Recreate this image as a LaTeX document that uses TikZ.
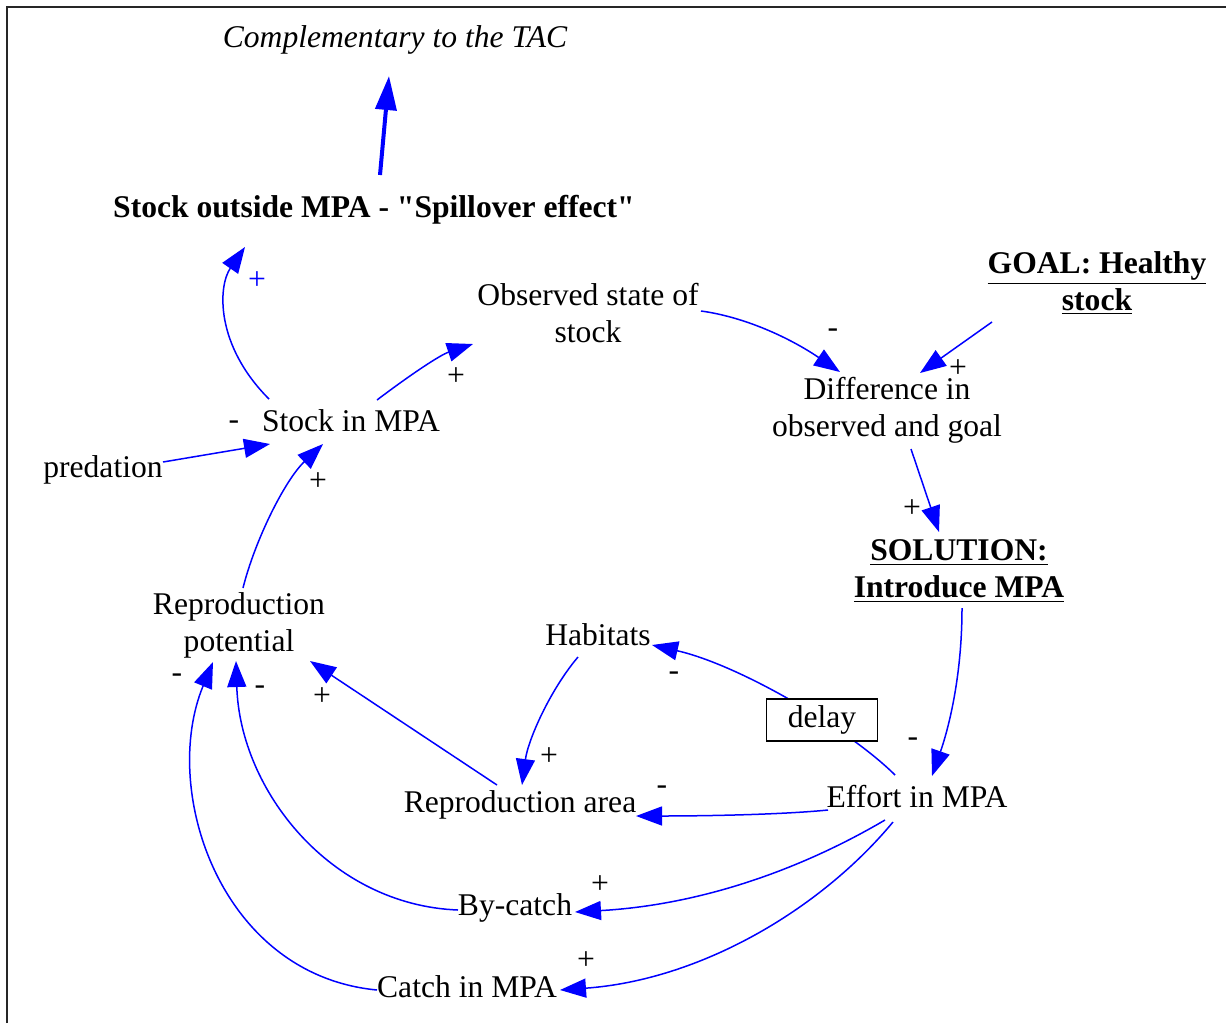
\documentclass[tikz,border=0pt]{standalone}
\usepackage{fontspec}
\setmainfont{Liberation Serif}
\usetikzlibrary{arrows.meta,calc}
\begin{document}
\begin{tikzpicture}[x=0.5pt,y=-0.5pt,
  lbl/.style={font=\fontsize{15.8}{18.5}\selectfont, inner sep=0pt, align=center},
  bld/.style={font=\fontsize{15.8}{18.5}\selectfont\bfseries, inner sep=0pt, align=center},
  sgn/.style={font=\fontsize{15.8}{18}\selectfont, inner sep=0pt},
  link/.style={draw=blue, line width=0.75pt, -{Triangle[length=13pt,width=9.5pt]}},
  thick link/.style={draw=blue, line width=2pt, -{Triangle[length=17pt,width=10.5pt]}}]
\useasboundingbox (0,0) rectangle (1226,1023);
\draw[line width=1.1pt, black!85] (7,1023) -- (7,7) -- (1226,7);

% nodes
\node[lbl, font=\fontsize{15.8}{18.5}\selectfont\itshape] (top) at (395,40) {Complementary to the TAC};
\node[bld] (out) at (374,210) {Stock outside MPA - \textquotedbl Spillover effect\textquotedbl};
\node[lbl] (obs) at (588,313) {Observed state of\\stock};
\node[bld] (goal) at (1097,283) {\underline{GOAL: Healthy}\\\underline{stock}};
\node[lbl] (diff) at (887,410) {Difference in\\observed and goal};
\node[bld] (sol) at (959,571) {\underline{SOLUTION:}\\\underline{Introduce MPA}};
\node[lbl] (stock) at (351,421) {Stock in MPA};
\node[lbl] (pred) at (103,470) {predation};
\node[lbl] (rp) at (239,625) {Reproduction\\potential};
\node[lbl] (hab) at (598,635) {Habitats};
\node[lbl] (eff) at (917,797) {Effort in MPA};
\node[lbl] (ra) at (520,805) {Reproduction area};
\node[lbl] (bc) at (515,908) {By-catch};
\node[lbl] (cm) at (467,987) {Catch in MPA};

% connectors
\draw[thick link] ($(out)+(6,-35)$) -- ($(top)+(-6,36)$);
\draw[link] ($(stock)+(-82,-22)$) .. controls +(-54,-54) and +(-27,39) .. ($(out)+(-129,37)$);
\draw[link] ($(stock)+(26,-21)$) .. controls +(33,-25) and +(-33,11) .. ($(obs)+(-115,31)$);
\draw[link] ($(pred)+(60,-8)$) -- ($(stock)+(-81,23)$);
\draw[link] ($(rp)+(4,-37)$) .. controls +(12,-48) and +(-38,36) .. ($(stock)+(-28,23)$);
\draw[link] ($(obs)+(113,-2)$) .. controls +(44,6) and +(-50,-34) .. ($(diff)+(-47,-38)$);
\draw[link] ($(goal)+(-105,39)$) -- ($(diff)+(33,-37)$);
\draw[link] ($(diff)+(24,39)$) -- ($(sol)+(-20,-39)$);
\draw[link] ($(sol)+(3,37)$) .. controls +(0,70) and +(16,-46) .. ($(eff)+(15,-21)$);
\draw[link] ($(eff)+(-22,-22)$) .. controls +(-45,-45) and +(88,20) .. ($(hab)+(54,10)$);
\draw[link] ($(hab)+(-20,22)$) .. controls +(-28,33) and +(6,-45) .. ($(ra)+(2,-20)$);
\draw[link] ($(eff)+(-89,13)$) .. controls +(-50,5) and +(60,0) .. ($(ra)+(116,11)$);
\draw[link] ($(ra)+(-23,-20)$) -- ($(rp)+(71,36)$);
\draw[link] ($(bc)+(-57,2)$) .. controls +(-128,-5) and +(4,129) .. ($(rp)+(-3,36)$);
\draw[link] ($(cm)+(-90,3)$) .. controls +(-157,-15) and +(-53,128) .. ($(rp)+(-26,37)$);
\draw[link] ($(eff)+(-32,23)$) .. controls +(-85,50) and +(125,-7) .. ($(bc)+(60,4)$);
\draw[link] ($(eff)+(-24,25)$) .. controls +(-73,88) and +(140,-10) .. ($(cm)+(93,3)$);

% delay box on top of the effort-habitats link
\node[lbl, draw, line width=0.75pt, fill=white, minimum width=55.5pt, minimum height=21pt] (delay) at (822,720) {delay};

% polarity signs
\node[sgn, text=blue] (p1) at (257,281) {+};
\node[sgn] (p2) at (456,377) {+};
\node[sgn] (m1) at (234,425) {-};
\node[sgn] (p3) at (318,482) {+};
\node[sgn] (m2) at (833,333) {-};
\node[sgn] (p4) at (958,369) {+};
\node[sgn] (p5) at (912,509) {+};
\node[sgn] (m3) at (913,742) {-};
\node[sgn] (m4) at (674,676) {-};
\node[sgn] (p6) at (549,757) {+};
\node[sgn] (m5) at (662,790) {-};
\node[sgn] (p7) at (322,697) {+};
\node[sgn] (m6) at (177,678) {-};
\node[sgn] (m7) at (260,690) {-};
\node[sgn] (p8) at (600,885) {+};
\node[sgn] (p9) at (586,961) {+};
\end{tikzpicture}
\end{document}
